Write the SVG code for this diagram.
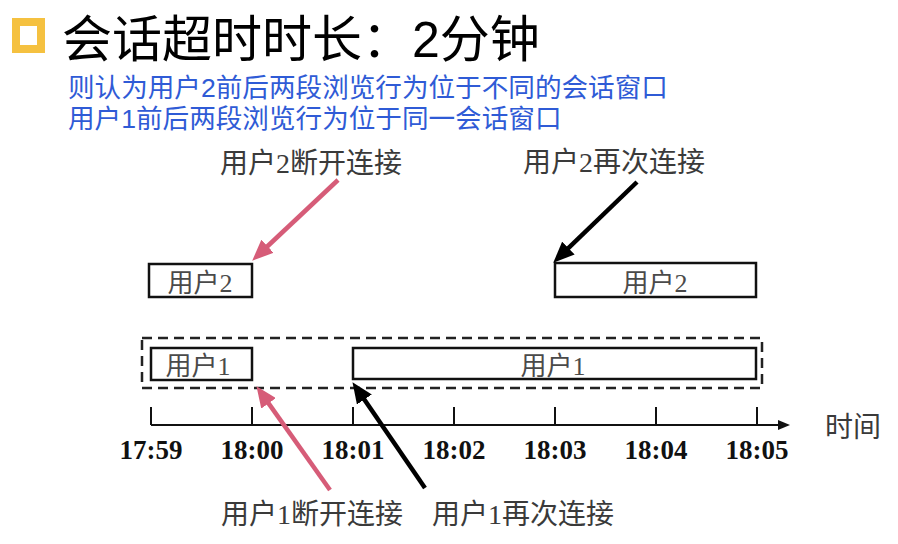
<svg xmlns="http://www.w3.org/2000/svg" width="898" height="544" viewBox="0 0 898 544">
<defs>
<style>
.title{font-family:"Liberation Sans","Noto Sans CJK SC",sans-serif;font-size:50px;fill:#000}
.sub{font-family:"Liberation Sans","Noto Sans CJK SC",sans-serif;font-size:26.6px;fill:#2F5BD6}
.lbl{font-family:"Liberation Serif","Noto Sans CJK SC",serif;font-size:28px;fill:#3a3a3a}
.box{fill:#fff;stroke:#111;stroke-width:2.5}
.boxt{font-family:"Liberation Serif","Noto Sans CJK SC",serif;font-size:26px;fill:#4a4a4a;text-anchor:middle}
.tick{font-family:"Liberation Serif",serif;font-weight:bold;font-size:27px;fill:#111;text-anchor:middle}
.axis{stroke:#111;stroke-width:2;fill:none}
</style>
<marker id="ahR" markerUnits="userSpaceOnUse" markerWidth="22" markerHeight="18" viewBox="0 0 22 18" refX="4" refY="9" orient="auto"><path d="M0,0 L21,9 L0,18 z" fill="#D65C78"/></marker>
<marker id="ahK" markerUnits="userSpaceOnUse" markerWidth="22" markerHeight="18" viewBox="0 0 22 18" refX="4" refY="9" orient="auto"><path d="M0,0 L21,9 L0,18 z" fill="#000"/></marker>
<marker id="ahA" markerUnits="userSpaceOnUse" markerWidth="12" markerHeight="10" viewBox="0 0 12 10" refX="2" refY="5" orient="auto"><path d="M0,0 L12,5 L0,10 z" fill="#111"/></marker>
</defs>
<g id="title">
<rect x="16" y="22" width="25" height="27" fill="#fff" stroke="#F5C140" stroke-width="8"/>
<text class="title" x="62" y="57">会话超时时长：2分钟</text>
<text class="sub" x="68" y="97">则认为用户2前后两段浏览行为位于不同的会话窗口</text>
<text class="sub" x="68" y="128">用户1前后两段浏览行为位于同一会话窗口</text>
</g>
<g id="window">
<rect x="142" y="338" width="620" height="50" fill="none" stroke="#222" stroke-width="2.5" stroke-dasharray="10,6"/>
</g>
<g id="u2a"><rect class="box" x="149" y="264" width="103" height="33"/><text class="boxt" x="200" y="292">用户2</text></g>
<g id="u2b"><rect class="box" x="555" y="263" width="201" height="34"/><text class="boxt" x="655" y="292">用户2</text></g>
<g id="u1a"><rect class="box" x="151" y="348" width="101" height="32"/><text class="boxt" x="198" y="375">用户1</text></g>
<g id="u1b"><rect class="box" x="353" y="348" width="403" height="31"/><text class="boxt" x="553" y="375">用户1</text></g>
<g id="axis">
<line class="axis" x1="151" y1="425" x2="780" y2="425" marker-end="url(#ahA)"/>
<path class="axis" d="M151,407V425M252,407V425M353,407V425M454,407V425M555,407V425M656,407V425M757,407V425"/>
<text class="tick" x="151" y="459">17:59</text>
<text class="tick" x="252" y="459">18:00</text>
<text class="tick" x="353" y="459">18:01</text>
<text class="tick" x="454" y="459">18:02</text>
<text class="tick" x="555" y="459">18:03</text>
<text class="tick" x="656" y="459">18:04</text>
<text class="tick" x="757" y="459">18:05</text>
<text class="lbl" x="825" y="437">时间</text>
</g>
<g id="labels">
<text class="lbl" x="220" y="173">用户2断开连接</text>
<text class="lbl" x="523" y="172">用户2再次连接</text>
<text class="lbl" x="221" y="524">用户1断开连接</text>
<text class="lbl" x="432" y="524">用户1再次连接</text>
</g>
<g id="connectors">
<line x1="338" y1="180" x2="264.6" y2="249" stroke="#D65C78" stroke-width="4.5" marker-end="url(#ahR)"/>
<line x1="637" y1="182" x2="565.5" y2="250.9" stroke="#000" stroke-width="4.5" marker-end="url(#ahK)"/>
<line x1="330" y1="490" x2="266.3" y2="400.1" stroke="#D65C78" stroke-width="4.5" marker-end="url(#ahR)"/>
<line x1="425" y1="488" x2="362.1" y2="396.2" stroke="#000" stroke-width="4.5" marker-end="url(#ahK)"/>
</g>
</svg>
